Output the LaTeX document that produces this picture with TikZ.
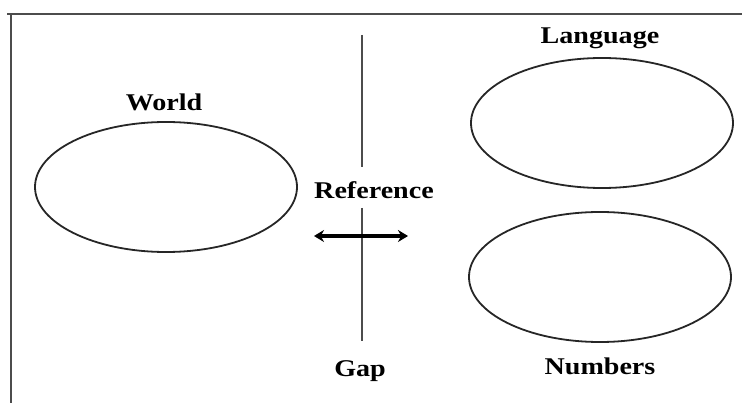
\documentclass[tikz,border=0pt]{standalone}
\usepackage{fontspec}
\setmainfont{Liberation Serif}
\usetikzlibrary{shapes.geometric,arrows.meta}
\tikzset{
  blob/.style={draw=black!85, line width=1.8pt, ellipse, minimum width=262pt, minimum height=130pt, inner sep=0pt},
  lbl/.style={font=\fontsize{24}{28}\selectfont\bfseries, xscale=1.17, anchor=base, inner sep=0pt},
  frame/.style={draw=black!70, line width=2pt},
  divider/.style={draw=black!70, line width=1.6pt},
  twoway/.style={line width=4pt, {Stealth[length=10pt,width=12pt]}-{Stealth[length=10pt,width=12pt]}}
}
\begin{document}
\begin{tikzpicture}[x=1pt,y=-1pt]
\useasboundingbox (0,0) rectangle (742,403);
\coordinate (f1) at (7,14);
\coordinate (f0) at (11,14);
\coordinate (f2) at (742,14);
\coordinate (f3) at (11,403);
\draw[frame] (f1) -- (f2);
\draw[frame] (f0) -- (f3);

\node[blob] (world) at (166,187) {};
\node[blob] (language) at (602,123) {};
\node[blob] (numbers) at (600,277) {};

\node[lbl] (worldl) at (164,111) {World};
\node[lbl] (languagel) at (600,44) {Language};
\node[lbl] (referencel) at (374,199) {Reference};
\node[lbl] (gapl) at (360,377) {Gap};
\node[lbl] (numbersl) at (600,375) {Numbers};

\coordinate (vtop) at (362,35);
\coordinate (vmid1) at (362,167);
\coordinate (vmid2) at (362,208);
\coordinate (vbot) at (362,341);
\draw[divider] (vtop) -- (vmid1);
\draw[divider] (vmid2) -- (vbot);

\coordinate (al) at (314,236);
\coordinate (ar) at (408,236);
\draw[twoway] (al) -- (ar);
\end{tikzpicture}
\end{document}
